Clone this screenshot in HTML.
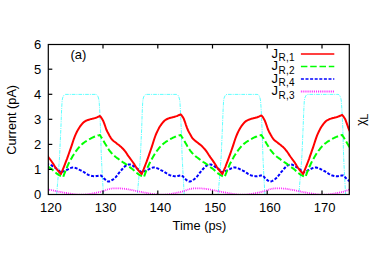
<!DOCTYPE html>
<html><head><meta charset="utf-8"><style>
html,body{margin:0;padding:0;background:#fff;}
body{width:374px;height:262px;overflow:hidden;}
svg{display:block;}
text{font-family:"Liberation Sans",sans-serif;font-size:13px;fill:#000;}
</style></head><body>
<svg width="374" height="262" viewBox="0 0 374 262">
<rect width="374" height="262" fill="#fff"/>
<defs><clipPath id="c"><rect x="48.3" y="44.5" width="301" height="150.5"/></clipPath></defs>
<g clip-path="url(#c)" fill="none" stroke-linejoin="round">
<path d="M-24.2,194.5 L-22.5,175.0 L-21.1,156.0 L-19.9,128.0 L-19.2,110.0 L-18.7,101.0 L-18.2,98.0 L-17.2,95.8 L-16.2,94.7 L-15.3,94.4 L14.9,94.4 L15.9,94.7 L16.9,95.8 L17.8,98.0 L18.4,101.0 L18.9,110.0 L19.8,128.0 L20.6,156.0 L21.5,175.0 L22.6,194.5 L56.1,194.5 L56.6,194.5 L58.3,175.0 L59.6,156.0 L60.9,128.0 L61.6,110.0 L62.1,101.0 L62.6,98.0 L63.5,95.8 L64.5,94.7 L65.5,94.4 L95.7,94.4 L96.7,94.7 L97.7,95.8 L98.5,98.0 L99.1,101.0 L99.7,110.0 L100.5,128.0 L101.3,156.0 L102.3,175.0 L103.4,194.5 L136.9,194.5 L137.3,194.5 L139.1,175.0 L140.4,156.0 L141.7,128.0 L142.3,110.0 L142.8,101.0 L143.3,98.0 L144.2,95.8 L145.2,94.7 L146.2,94.4 L176.4,94.4 L177.4,94.7 L178.4,95.8 L179.2,98.0 L179.9,101.0 L180.4,110.0 L181.2,128.0 L182.1,156.0 L183.1,175.0 L184.2,194.5 L217.7,194.5 L218.1,194.5 L219.8,175.0 L221.2,156.0 L222.4,128.0 L223.1,110.0 L223.6,101.0 L224.1,98.0 L225.0,95.8 L226.0,94.7 L227.0,94.4 L257.2,94.4 L258.2,94.7 L259.2,95.8 L260.0,98.0 L260.6,101.0 L261.2,110.0 L262.0,128.0 L262.9,156.0 L263.8,175.0 L264.9,194.5 L298.4,194.5 L298.8,194.5 L300.5,175.0 L301.9,156.0 L303.1,128.0 L303.8,110.0 L304.3,101.0 L304.8,98.0 L305.8,95.8 L306.8,94.7 L307.8,94.4 L337.9,94.4 L338.9,94.7 L339.9,95.8 L340.8,98.0 L341.3,101.0 L341.9,110.0 L342.8,128.0 L343.6,156.0 L344.5,175.0 L345.6,194.5 L379.1,194.5 L379.6,194.5 L381.3,175.0 L382.6,156.0 L383.9,128.0 L384.6,110.0 L385.1,101.0 L385.6,98.0 L386.5,95.8 L387.5,94.7 L388.5,94.4 L418.7,94.4 L419.7,94.7 L420.7,95.8 L421.5,98.0 L422.1,101.0 L422.7,110.0 L423.5,128.0 L424.3,156.0 L425.3,175.0 L426.4,194.5 L459.9,194.5" stroke="#00ffff" stroke-width="0.9" stroke-dasharray="3.7,1,1,1" opacity="0.7"/>
<path d="M-19.9,192.0 L-18.5,192.3 L-17.1,192.5 L-15.7,192.8 L-14.4,193.0 L-13.0,193.3 L-11.6,193.5 L-10.3,193.7 L-8.9,193.9 L-7.5,194.1 L-6.2,194.3 L-4.8,194.5 L-3.4,194.6 L-2.1,194.7 L-0.7,194.7 L0.7,194.7 L2.0,194.7 L3.4,194.6 L4.8,194.5 L6.2,194.4 L7.5,194.2 L8.9,194.0 L10.3,193.8 L11.6,193.5 L13.0,193.2 L14.4,193.0 L15.7,192.7 L17.1,192.4 L18.5,192.1 L19.8,191.8 L21.2,191.4 L22.6,191.0 L23.9,190.5 L25.3,190.0 L26.7,189.5 L28.1,189.1 L29.4,188.8 L30.8,188.6 L32.2,188.4 L33.5,188.3 L34.9,188.3 L36.3,188.3 L37.6,188.3 L39.0,188.4 L40.4,188.5 L41.7,188.6 L43.1,188.7 L44.5,188.9 L45.8,189.1 L47.2,189.3 L48.6,189.6 L50.0,189.8 L51.3,190.1 L52.7,190.4 L54.1,190.7 L55.4,191.0 L56.8,191.3 L58.2,191.5 L59.5,191.8 L60.9,192.0 L60.9,192.0 L62.3,192.3 L63.6,192.5 L65.0,192.8 L66.4,193.0 L67.7,193.3 L69.1,193.5 L70.5,193.7 L71.8,193.9 L73.2,194.1 L74.6,194.3 L76.0,194.5 L77.3,194.6 L78.7,194.7 L80.1,194.7 L81.4,194.7 L82.8,194.7 L84.2,194.6 L85.5,194.5 L86.9,194.4 L88.3,194.2 L89.6,194.0 L91.0,193.8 L92.4,193.5 L93.7,193.2 L95.1,193.0 L96.5,192.7 L97.9,192.4 L99.2,192.1 L100.6,191.8 L102.0,191.4 L103.3,191.0 L104.7,190.5 L106.1,190.0 L107.4,189.5 L108.8,189.1 L110.2,188.8 L111.5,188.6 L112.9,188.4 L114.3,188.3 L115.6,188.3 L117.0,188.3 L118.4,188.3 L119.8,188.4 L121.1,188.5 L122.5,188.6 L123.9,188.7 L125.2,188.9 L126.6,189.1 L128.0,189.3 L129.3,189.6 L130.7,189.8 L132.1,190.1 L133.4,190.4 L134.8,190.7 L136.2,191.0 L137.5,191.3 L138.9,191.5 L140.3,191.8 L141.7,192.0 L141.7,192.0 L143.0,192.3 L144.4,192.5 L145.8,192.8 L147.1,193.0 L148.5,193.3 L149.9,193.5 L151.2,193.7 L152.6,193.9 L154.0,194.1 L155.3,194.3 L156.7,194.5 L158.1,194.6 L159.4,194.7 L160.8,194.7 L162.2,194.7 L163.5,194.7 L164.9,194.6 L166.3,194.5 L167.7,194.4 L169.0,194.2 L170.4,194.0 L171.8,193.8 L173.1,193.5 L174.5,193.2 L175.9,193.0 L177.2,192.7 L178.6,192.4 L180.0,192.1 L181.3,191.8 L182.7,191.4 L184.1,191.0 L185.4,190.5 L186.8,190.0 L188.2,189.5 L189.6,189.1 L190.9,188.8 L192.3,188.6 L193.7,188.4 L195.0,188.3 L196.4,188.3 L197.8,188.3 L199.1,188.3 L200.5,188.4 L201.9,188.5 L203.2,188.6 L204.6,188.7 L206.0,188.9 L207.3,189.1 L208.7,189.3 L210.1,189.6 L211.5,189.8 L212.8,190.1 L214.2,190.4 L215.6,190.7 L216.9,191.0 L218.3,191.3 L219.7,191.5 L221.0,191.8 L222.4,192.0 L222.4,192.0 L223.8,192.3 L225.1,192.5 L226.5,192.8 L227.9,193.0 L229.2,193.3 L230.6,193.5 L232.0,193.7 L233.3,193.9 L234.7,194.1 L236.1,194.3 L237.5,194.5 L238.8,194.6 L240.2,194.7 L241.6,194.7 L242.9,194.7 L244.3,194.7 L245.7,194.6 L247.0,194.5 L248.4,194.4 L249.8,194.2 L251.1,194.0 L252.5,193.8 L253.9,193.5 L255.2,193.2 L256.6,193.0 L258.0,192.7 L259.4,192.4 L260.7,192.1 L262.1,191.8 L263.5,191.4 L264.8,191.0 L266.2,190.5 L267.6,190.0 L268.9,189.5 L270.3,189.1 L271.7,188.8 L273.0,188.6 L274.4,188.4 L275.8,188.3 L277.1,188.3 L278.5,188.3 L279.9,188.3 L281.3,188.4 L282.6,188.5 L284.0,188.6 L285.4,188.7 L286.7,188.9 L288.1,189.1 L289.5,189.3 L290.8,189.6 L292.2,189.8 L293.6,190.1 L294.9,190.4 L296.3,190.7 L297.7,191.0 L299.0,191.3 L300.4,191.5 L301.8,191.8 L303.1,192.0 L303.1,192.0 L304.5,192.3 L305.9,192.5 L307.3,192.8 L308.6,193.0 L310.0,193.3 L311.4,193.5 L312.7,193.7 L314.1,193.9 L315.5,194.1 L316.8,194.3 L318.2,194.5 L319.6,194.6 L320.9,194.7 L322.3,194.7 L323.7,194.7 L325.0,194.7 L326.4,194.6 L327.8,194.5 L329.2,194.4 L330.5,194.2 L331.9,194.0 L333.3,193.8 L334.6,193.5 L336.0,193.2 L337.4,193.0 L338.7,192.7 L340.1,192.4 L341.5,192.1 L342.8,191.8 L344.2,191.4 L345.6,191.0 L346.9,190.5 L348.3,190.0 L349.7,189.5 L351.1,189.1 L352.4,188.8 L353.8,188.6 L355.2,188.4 L356.5,188.3 L357.9,188.3 L359.3,188.3 L360.6,188.3 L362.0,188.4 L363.4,188.5 L364.7,188.6 L366.1,188.7 L367.5,188.9 L368.8,189.1 L370.2,189.3 L371.6,189.6 L373.0,189.8 L374.3,190.1 L375.7,190.4 L377.1,190.7 L378.4,191.0 L379.8,191.3 L381.2,191.5 L382.5,191.8 L383.9,192.0 L383.9,192.0 L385.3,192.3 L386.6,192.5 L388.0,192.8 L389.4,193.0 L390.7,193.3 L392.1,193.5 L393.5,193.7 L394.8,193.9 L396.2,194.1 L397.6,194.3 L399.0,194.5 L400.3,194.6 L401.7,194.7 L403.1,194.7 L404.4,194.7 L405.8,194.7 L407.2,194.6 L408.5,194.5 L409.9,194.4 L411.3,194.2 L412.6,194.0 L414.0,193.8 L415.4,193.5 L416.7,193.2 L418.1,193.0 L419.5,192.7 L420.9,192.4 L422.2,192.1 L423.6,191.8 L425.0,191.4 L426.3,191.0 L427.7,190.5 L429.1,190.0 L430.4,189.5 L431.8,189.1 L433.2,188.8 L434.5,188.6 L435.9,188.4 L437.3,188.3 L438.6,188.3 L440.0,188.3 L441.4,188.3 L442.8,188.4 L444.1,188.5 L445.5,188.6 L446.9,188.7 L448.2,188.9 L449.6,189.1 L451.0,189.3 L452.3,189.6 L453.7,189.8 L455.1,190.1 L456.4,190.4 L457.8,190.7 L459.2,191.0 L460.5,191.3 L461.9,191.5 L463.3,191.8 L464.6,192.0" stroke="#ff00ff" stroke-width="1.8" stroke-dasharray="0.8,1.1"/>
<path d="M-19.7,172.5 L-18.7,172.0 L-17.8,171.6 L-16.9,171.2 L-16.0,170.8 L-15.1,170.4 L-14.2,170.0 L-13.3,169.5 L-12.4,169.1 L-11.5,168.6 L-10.6,168.2 L-9.7,167.9 L-8.8,167.6 L-7.9,167.5 L-6.9,167.5 L-6.0,167.7 L-5.1,167.9 L-4.2,168.3 L-3.3,168.7 L-2.4,169.1 L-1.5,169.6 L-0.6,170.1 L0.3,170.5 L1.2,171.0 L2.1,171.4 L3.0,172.0 L3.9,172.6 L4.8,173.2 L5.8,173.8 L6.7,174.3 L7.6,174.8 L8.5,175.2 L9.4,175.5 L10.3,175.7 L11.2,175.9 L12.1,176.1 L13.0,176.2 L13.9,176.3 L14.8,176.3 L15.7,176.1 L16.6,175.9 L17.5,175.7 L18.5,175.5 L19.4,175.4 L20.3,175.5 L21.2,176.2 L22.1,177.2 L23.0,178.3 L23.9,179.1 L24.8,179.9 L25.7,180.6 L26.6,181.2 L27.5,181.5 L28.4,181.4 L29.3,181.2 L30.3,180.8 L31.2,180.2 L32.1,179.6 L33.0,179.0 L33.9,178.3 L34.8,177.4 L35.7,176.3 L36.6,175.2 L37.5,173.9 L38.4,172.7 L39.3,171.6 L40.2,170.6 L41.1,169.5 L42.0,168.5 L43.0,167.5 L43.9,166.6 L44.8,165.9 L45.7,165.4 L46.6,164.9 L47.5,164.6 L48.4,164.4 L49.3,164.5 L50.2,164.8 L51.1,165.2 L52.0,165.7 L52.9,166.3 L53.8,166.9 L54.7,167.5 L55.7,168.1 L56.6,168.7 L57.5,169.4 L58.4,170.1 L59.3,170.9 L60.2,171.7 L61.1,172.5 L61.1,172.5 L62.0,172.0 L62.9,171.6 L63.8,171.2 L64.7,170.8 L65.6,170.4 L66.5,170.0 L67.5,169.5 L68.4,169.1 L69.3,168.6 L70.2,168.2 L71.1,167.9 L72.0,167.6 L72.9,167.5 L73.8,167.5 L74.7,167.7 L75.6,167.9 L76.5,168.3 L77.4,168.7 L78.3,169.1 L79.2,169.6 L80.2,170.1 L81.1,170.5 L82.0,171.0 L82.9,171.4 L83.8,172.0 L84.7,172.6 L85.6,173.2 L86.5,173.8 L87.4,174.3 L88.3,174.8 L89.2,175.2 L90.1,175.5 L91.0,175.7 L91.9,175.9 L92.9,176.1 L93.8,176.2 L94.7,176.3 L95.6,176.3 L96.5,176.1 L97.4,175.9 L98.3,175.7 L99.2,175.5 L100.1,175.4 L101.0,175.5 L101.9,176.2 L102.8,177.2 L103.7,178.3 L104.7,179.1 L105.6,179.9 L106.5,180.6 L107.4,181.2 L108.3,181.5 L109.2,181.4 L110.1,181.2 L111.0,180.8 L111.9,180.2 L112.8,179.6 L113.7,179.0 L114.6,178.3 L115.5,177.4 L116.4,176.3 L117.4,175.2 L118.3,173.9 L119.2,172.7 L120.1,171.6 L121.0,170.6 L121.9,169.5 L122.8,168.5 L123.7,167.5 L124.6,166.6 L125.5,165.9 L126.4,165.4 L127.3,164.9 L128.2,164.6 L129.1,164.4 L130.1,164.5 L131.0,164.8 L131.9,165.2 L132.8,165.7 L133.7,166.3 L134.6,166.9 L135.5,167.5 L136.4,168.1 L137.3,168.7 L138.2,169.4 L139.1,170.1 L140.0,170.9 L140.9,171.7 L141.8,172.5 L141.8,172.5 L142.8,172.0 L143.7,171.6 L144.6,171.2 L145.5,170.8 L146.4,170.4 L147.3,170.0 L148.2,169.5 L149.1,169.1 L150.0,168.6 L150.9,168.2 L151.8,167.9 L152.7,167.6 L153.6,167.5 L154.6,167.5 L155.5,167.7 L156.4,167.9 L157.3,168.3 L158.2,168.7 L159.1,169.1 L160.0,169.6 L160.9,170.1 L161.8,170.5 L162.7,171.0 L163.6,171.4 L164.5,172.0 L165.4,172.6 L166.3,173.2 L167.3,173.8 L168.2,174.3 L169.1,174.8 L170.0,175.2 L170.9,175.5 L171.8,175.7 L172.7,175.9 L173.6,176.1 L174.5,176.2 L175.4,176.3 L176.3,176.3 L177.2,176.1 L178.1,175.9 L179.0,175.7 L180.0,175.5 L180.9,175.4 L181.8,175.5 L182.7,176.2 L183.6,177.2 L184.5,178.3 L185.4,179.1 L186.3,179.9 L187.2,180.6 L188.1,181.2 L189.0,181.5 L189.9,181.4 L190.8,181.2 L191.8,180.8 L192.7,180.2 L193.6,179.6 L194.5,179.0 L195.4,178.3 L196.3,177.4 L197.2,176.3 L198.1,175.2 L199.0,173.9 L199.9,172.7 L200.8,171.6 L201.7,170.6 L202.6,169.5 L203.5,168.5 L204.5,167.5 L205.4,166.6 L206.3,165.9 L207.2,165.4 L208.1,164.9 L209.0,164.6 L209.9,164.4 L210.8,164.5 L211.7,164.8 L212.6,165.2 L213.5,165.7 L214.4,166.3 L215.3,166.9 L216.2,167.5 L217.2,168.1 L218.1,168.7 L219.0,169.4 L219.9,170.1 L220.8,170.9 L221.7,171.7 L222.6,172.5 L222.6,172.5 L223.5,172.0 L224.4,171.6 L225.3,171.2 L226.2,170.8 L227.1,170.4 L228.0,170.0 L229.0,169.5 L229.9,169.1 L230.8,168.6 L231.7,168.2 L232.6,167.9 L233.5,167.6 L234.4,167.5 L235.3,167.5 L236.2,167.7 L237.1,167.9 L238.0,168.3 L238.9,168.7 L239.8,169.1 L240.7,169.6 L241.7,170.1 L242.6,170.5 L243.5,171.0 L244.4,171.4 L245.3,172.0 L246.2,172.6 L247.1,173.2 L248.0,173.8 L248.9,174.3 L249.8,174.8 L250.7,175.2 L251.6,175.5 L252.5,175.7 L253.4,175.9 L254.4,176.1 L255.3,176.2 L256.2,176.3 L257.1,176.3 L258.0,176.1 L258.9,175.9 L259.8,175.7 L260.7,175.5 L261.6,175.4 L262.5,175.5 L263.4,176.2 L264.3,177.2 L265.2,178.3 L266.2,179.1 L267.1,179.9 L268.0,180.6 L268.9,181.2 L269.8,181.5 L270.7,181.4 L271.6,181.2 L272.5,180.8 L273.4,180.2 L274.3,179.6 L275.2,179.0 L276.1,178.3 L277.0,177.4 L277.9,176.3 L278.9,175.2 L279.8,173.9 L280.7,172.7 L281.6,171.6 L282.5,170.6 L283.4,169.5 L284.3,168.5 L285.2,167.5 L286.1,166.6 L287.0,165.9 L287.9,165.4 L288.8,164.9 L289.7,164.6 L290.6,164.4 L291.6,164.5 L292.5,164.8 L293.4,165.2 L294.3,165.7 L295.2,166.3 L296.1,166.9 L297.0,167.5 L297.9,168.1 L298.8,168.7 L299.7,169.4 L300.6,170.1 L301.5,170.9 L302.4,171.7 L303.4,172.5 L303.3,172.5 L304.3,172.0 L305.2,171.6 L306.1,171.2 L307.0,170.8 L307.9,170.4 L308.8,170.0 L309.7,169.5 L310.6,169.1 L311.5,168.6 L312.4,168.2 L313.3,167.9 L314.2,167.6 L315.1,167.5 L316.1,167.5 L317.0,167.7 L317.9,167.9 L318.8,168.3 L319.7,168.7 L320.6,169.1 L321.5,169.6 L322.4,170.1 L323.3,170.5 L324.2,171.0 L325.1,171.4 L326.0,172.0 L326.9,172.6 L327.8,173.2 L328.8,173.8 L329.7,174.3 L330.6,174.8 L331.5,175.2 L332.4,175.5 L333.3,175.7 L334.2,175.9 L335.1,176.1 L336.0,176.2 L336.9,176.3 L337.8,176.3 L338.7,176.1 L339.6,175.9 L340.5,175.7 L341.5,175.5 L342.4,175.4 L343.3,175.5 L344.2,176.2 L345.1,177.2 L346.0,178.3 L346.9,179.1 L347.8,179.9 L348.7,180.6 L349.6,181.2 L350.5,181.5 L351.4,181.4 L352.3,181.2 L353.3,180.8 L354.2,180.2 L355.1,179.6 L356.0,179.0 L356.9,178.3 L357.8,177.4 L358.7,176.3 L359.6,175.2 L360.5,173.9 L361.4,172.7 L362.3,171.6 L363.2,170.6 L364.1,169.5 L365.0,168.5 L366.0,167.5 L366.9,166.6 L367.8,165.9 L368.7,165.4 L369.6,164.9 L370.5,164.6 L371.4,164.4 L372.3,164.5 L373.2,164.8 L374.1,165.2 L375.0,165.7 L375.9,166.3 L376.8,166.9 L377.7,167.5 L378.7,168.1 L379.6,168.7 L380.5,169.4 L381.4,170.1 L382.3,170.9 L383.2,171.7 L384.1,172.5 L384.1,172.5 L385.0,172.0 L385.9,171.6 L386.8,171.2 L387.7,170.8 L388.6,170.4 L389.5,170.0 L390.5,169.5 L391.4,169.1 L392.3,168.6 L393.2,168.2 L394.1,167.9 L395.0,167.6 L395.9,167.5 L396.8,167.5 L397.7,167.7 L398.6,167.9 L399.5,168.3 L400.4,168.7 L401.3,169.1 L402.2,169.6 L403.2,170.1 L404.1,170.5 L405.0,171.0 L405.9,171.4 L406.8,172.0 L407.7,172.6 L408.6,173.2 L409.5,173.8 L410.4,174.3 L411.3,174.8 L412.2,175.2 L413.1,175.5 L414.0,175.7 L414.9,175.9 L415.9,176.1 L416.8,176.2 L417.7,176.3 L418.6,176.3 L419.5,176.1 L420.4,175.9 L421.3,175.7 L422.2,175.5 L423.1,175.4 L424.0,175.5 L424.9,176.2 L425.8,177.2 L426.7,178.3 L427.7,179.1 L428.6,179.9 L429.5,180.6 L430.4,181.2 L431.3,181.5 L432.2,181.4 L433.1,181.2 L434.0,180.8 L434.9,180.2 L435.8,179.6 L436.7,179.0 L437.6,178.3 L438.5,177.4 L439.4,176.3 L440.4,175.2 L441.3,173.9 L442.2,172.7 L443.1,171.6 L444.0,170.6 L444.9,169.5 L445.8,168.5 L446.7,167.5 L447.6,166.6 L448.5,165.9 L449.4,165.4 L450.3,164.9 L451.2,164.6 L452.1,164.4 L453.1,164.5 L454.0,164.8 L454.9,165.2 L455.8,165.7 L456.7,166.3 L457.6,166.9 L458.5,167.5 L459.4,168.1 L460.3,168.7 L461.2,169.4 L462.1,170.1 L463.0,170.9 L463.9,171.7 L464.8,172.5" stroke="#0000ff" stroke-width="2" stroke-dasharray="3,1.6"/>
<path d="M-17.6,177.0 L-16.6,174.4 L-15.7,171.9 L-14.7,169.6 L-13.8,167.3 L-12.8,165.2 L-11.9,163.2 L-11.0,161.4 L-10.0,159.6 L-9.1,158.0 L-8.1,156.3 L-7.2,154.8 L-6.3,153.3 L-5.3,151.9 L-4.4,150.6 L-3.4,149.4 L-2.5,148.2 L-1.6,147.1 L-0.6,146.0 L0.3,145.1 L1.3,144.2 L2.2,143.4 L3.2,142.7 L4.1,142.0 L5.0,141.4 L6.0,140.8 L6.9,140.2 L7.9,139.6 L8.8,139.1 L9.7,138.6 L10.7,138.1 L11.6,137.6 L12.6,137.2 L13.5,136.8 L14.4,136.5 L15.4,136.1 L16.3,135.8 L17.3,135.4 L18.2,135.2 L19.1,134.9 L20.3,136.8 L21.4,138.6 L22.5,140.5 L23.7,142.4 L24.8,144.3 L25.9,146.2 L27.1,148.1 L28.2,149.8 L29.3,151.3 L30.4,152.7 L31.6,153.9 L32.7,155.1 L33.8,156.1 L35.0,157.0 L36.1,157.8 L37.2,158.6 L38.4,159.5 L39.5,160.5 L40.6,161.3 L41.7,162.0 L42.9,162.7 L44.0,163.4 L45.1,164.2 L46.3,165.0 L47.4,165.9 L48.5,166.8 L49.6,167.6 L50.8,168.4 L51.9,169.3 L53.0,170.3 L54.2,171.4 L55.3,172.4 L56.4,173.3 L57.6,174.1 L58.7,174.8 L59.8,175.4 L60.9,176.0 L62.1,176.5 L63.2,177.0 L63.2,177.0 L64.1,174.4 L65.1,171.9 L66.0,169.6 L67.0,167.3 L67.9,165.2 L68.8,163.2 L69.8,161.4 L70.7,159.6 L71.7,158.0 L72.6,156.3 L73.6,154.8 L74.5,153.3 L75.4,151.9 L76.4,150.6 L77.3,149.4 L78.3,148.2 L79.2,147.1 L80.1,146.0 L81.1,145.1 L82.0,144.2 L83.0,143.4 L83.9,142.7 L84.8,142.0 L85.8,141.4 L86.7,140.8 L87.7,140.2 L88.6,139.6 L89.5,139.1 L90.5,138.6 L91.4,138.1 L92.4,137.6 L93.3,137.2 L94.3,136.8 L95.2,136.5 L96.1,136.1 L97.1,135.8 L98.0,135.4 L99.0,135.2 L99.9,134.9 L101.0,136.8 L102.2,138.6 L103.3,140.5 L104.4,142.4 L105.5,144.3 L106.7,146.2 L107.8,148.1 L108.9,149.8 L110.1,151.3 L111.2,152.7 L112.3,153.9 L113.5,155.1 L114.6,156.1 L115.7,157.0 L116.8,157.8 L118.0,158.6 L119.1,159.5 L120.2,160.5 L121.4,161.3 L122.5,162.0 L123.6,162.7 L124.7,163.4 L125.9,164.2 L127.0,165.0 L128.1,165.9 L129.3,166.8 L130.4,167.6 L131.5,168.4 L132.7,169.3 L133.8,170.3 L134.9,171.4 L136.0,172.4 L137.2,173.3 L138.3,174.1 L139.4,174.8 L140.6,175.4 L141.7,176.0 L142.8,176.5 L143.9,177.0 L144.0,177.0 L144.9,174.4 L145.8,171.9 L146.8,169.6 L147.7,167.3 L148.7,165.2 L149.6,163.2 L150.5,161.4 L151.5,159.6 L152.4,158.0 L153.4,156.3 L154.3,154.8 L155.2,153.3 L156.2,151.9 L157.1,150.6 L158.1,149.4 L159.0,148.2 L159.9,147.1 L160.9,146.0 L161.8,145.1 L162.8,144.2 L163.7,143.4 L164.7,142.7 L165.6,142.0 L166.5,141.4 L167.5,140.8 L168.4,140.2 L169.4,139.6 L170.3,139.1 L171.2,138.6 L172.2,138.1 L173.1,137.6 L174.1,137.2 L175.0,136.8 L175.9,136.5 L176.9,136.1 L177.8,135.8 L178.8,135.4 L179.7,135.2 L180.7,134.9 L181.8,136.8 L182.9,138.6 L184.0,140.5 L185.2,142.4 L186.3,144.3 L187.4,146.2 L188.6,148.1 L189.7,149.8 L190.8,151.3 L191.9,152.7 L193.1,153.9 L194.2,155.1 L195.3,156.1 L196.5,157.0 L197.6,157.8 L198.7,158.6 L199.9,159.5 L201.0,160.5 L202.1,161.3 L203.2,162.0 L204.4,162.7 L205.5,163.4 L206.6,164.2 L207.8,165.0 L208.9,165.9 L210.0,166.8 L211.1,167.6 L212.3,168.4 L213.4,169.3 L214.5,170.3 L215.7,171.4 L216.8,172.4 L217.9,173.3 L219.1,174.1 L220.2,174.8 L221.3,175.4 L222.4,176.0 L223.6,176.5 L224.7,177.0 L224.7,177.0 L225.6,174.4 L226.6,171.9 L227.5,169.6 L228.5,167.3 L229.4,165.2 L230.3,163.2 L231.3,161.4 L232.2,159.6 L233.2,158.0 L234.1,156.3 L235.1,154.8 L236.0,153.3 L236.9,151.9 L237.9,150.6 L238.8,149.4 L239.8,148.2 L240.7,147.1 L241.6,146.0 L242.6,145.1 L243.5,144.2 L244.5,143.4 L245.4,142.7 L246.3,142.0 L247.3,141.4 L248.2,140.8 L249.2,140.2 L250.1,139.6 L251.0,139.1 L252.0,138.6 L252.9,138.1 L253.9,137.6 L254.8,137.2 L255.8,136.8 L256.7,136.5 L257.6,136.1 L258.6,135.8 L259.5,135.4 L260.5,135.2 L261.4,134.9 L262.5,136.8 L263.7,138.6 L264.8,140.5 L265.9,142.4 L267.0,144.3 L268.2,146.2 L269.3,148.1 L270.4,149.8 L271.6,151.3 L272.7,152.7 L273.8,153.9 L275.0,155.1 L276.1,156.1 L277.2,157.0 L278.3,157.8 L279.5,158.6 L280.6,159.5 L281.7,160.5 L282.9,161.3 L284.0,162.0 L285.1,162.7 L286.2,163.4 L287.4,164.2 L288.5,165.0 L289.6,165.9 L290.8,166.8 L291.9,167.6 L293.0,168.4 L294.2,169.3 L295.3,170.3 L296.4,171.4 L297.5,172.4 L298.7,173.3 L299.8,174.1 L300.9,174.8 L302.1,175.4 L303.2,176.0 L304.3,176.5 L305.4,177.0 L305.4,177.0 L306.4,174.4 L307.3,171.9 L308.3,169.6 L309.2,167.3 L310.2,165.2 L311.1,163.2 L312.0,161.4 L313.0,159.6 L313.9,158.0 L314.9,156.3 L315.8,154.8 L316.7,153.3 L317.7,151.9 L318.6,150.6 L319.6,149.4 L320.5,148.2 L321.4,147.1 L322.4,146.0 L323.3,145.1 L324.3,144.2 L325.2,143.4 L326.2,142.7 L327.1,142.0 L328.0,141.4 L329.0,140.8 L329.9,140.2 L330.9,139.6 L331.8,139.1 L332.7,138.6 L333.7,138.1 L334.6,137.6 L335.6,137.2 L336.5,136.8 L337.4,136.5 L338.4,136.1 L339.3,135.8 L340.3,135.4 L341.2,135.2 L342.1,134.9 L343.3,136.8 L344.4,138.6 L345.5,140.5 L346.7,142.4 L347.8,144.3 L348.9,146.2 L350.1,148.1 L351.2,149.8 L352.3,151.3 L353.4,152.7 L354.6,153.9 L355.7,155.1 L356.8,156.1 L358.0,157.0 L359.1,157.8 L360.2,158.6 L361.4,159.5 L362.5,160.5 L363.6,161.3 L364.7,162.0 L365.9,162.7 L367.0,163.4 L368.1,164.2 L369.3,165.0 L370.4,165.9 L371.5,166.8 L372.6,167.6 L373.8,168.4 L374.9,169.3 L376.0,170.3 L377.2,171.4 L378.3,172.4 L379.4,173.3 L380.6,174.1 L381.7,174.8 L382.8,175.4 L383.9,176.0 L385.1,176.5 L386.2,177.0 L386.2,177.0 L387.1,174.4 L388.1,171.9 L389.0,169.6 L390.0,167.3 L390.9,165.2 L391.8,163.2 L392.8,161.4 L393.7,159.6 L394.7,158.0 L395.6,156.3 L396.6,154.8 L397.5,153.3 L398.4,151.9 L399.4,150.6 L400.3,149.4 L401.3,148.2 L402.2,147.1 L403.1,146.0 L404.1,145.1 L405.0,144.2 L406.0,143.4 L406.9,142.7 L407.8,142.0 L408.8,141.4 L409.7,140.8 L410.7,140.2 L411.6,139.6 L412.5,139.1 L413.5,138.6 L414.4,138.1 L415.4,137.6 L416.3,137.2 L417.3,136.8 L418.2,136.5 L419.1,136.1 L420.1,135.8 L421.0,135.4 L422.0,135.2 L422.9,134.9 L424.0,136.8 L425.2,138.6 L426.3,140.5 L427.4,142.4 L428.5,144.3 L429.7,146.2 L430.8,148.1 L431.9,149.8 L433.1,151.3 L434.2,152.7 L435.3,153.9 L436.5,155.1 L437.6,156.1 L438.7,157.0 L439.8,157.8 L441.0,158.6 L442.1,159.5 L443.2,160.5 L444.4,161.3 L445.5,162.0 L446.6,162.7 L447.7,163.4 L448.9,164.2 L450.0,165.0 L451.1,165.9 L452.3,166.8 L453.4,167.6 L454.5,168.4 L455.7,169.3 L456.8,170.3 L457.9,171.4 L459.0,172.4 L460.2,173.3 L461.3,174.1 L462.4,174.8 L463.6,175.4 L464.7,176.0 L465.8,176.5 L466.9,177.0" stroke="#00ff00" stroke-width="2" stroke-dasharray="6.5,2.8"/>
<path d="M-19.9,174.0 L-18.9,171.7 L-17.9,169.3 L-16.9,166.8 L-15.9,164.3 L-14.9,161.7 L-13.9,159.1 L-12.9,156.3 L-11.9,153.5 L-10.9,150.7 L-9.9,147.9 L-8.9,144.9 L-7.9,141.8 L-6.9,138.8 L-5.9,136.2 L-4.9,133.9 L-3.9,131.8 L-2.9,129.9 L-1.9,128.2 L-0.9,126.7 L0.1,125.4 L1.1,124.1 L2.1,123.0 L3.1,122.1 L4.1,121.4 L5.1,120.8 L6.1,120.4 L7.1,120.0 L8.1,119.7 L9.1,119.4 L10.1,119.1 L11.1,118.9 L12.1,118.6 L13.1,118.4 L14.1,118.1 L15.1,117.8 L16.1,117.4 L17.1,116.9 L18.1,116.5 L19.1,116.0 L20.2,117.2 L21.3,118.8 L22.4,120.7 L23.4,123.3 L24.5,126.5 L25.6,129.5 L26.6,131.8 L27.7,133.8 L28.8,135.7 L29.9,137.6 L30.9,139.2 L32.0,140.3 L33.1,141.2 L34.1,142.0 L35.2,142.8 L36.3,143.7 L37.3,144.5 L38.4,145.3 L39.5,146.2 L40.6,147.1 L41.6,148.2 L42.7,149.3 L43.8,150.5 L44.8,151.9 L45.9,153.5 L47.0,155.1 L48.1,156.7 L49.1,158.1 L50.2,159.5 L51.3,161.0 L52.3,162.5 L53.4,164.1 L54.5,165.9 L55.5,167.5 L56.6,169.0 L57.7,170.4 L58.8,171.7 L59.8,172.9 L60.9,174.0 L60.9,174.0 L61.9,171.7 L62.9,169.3 L63.9,166.8 L64.9,164.3 L65.9,161.7 L66.9,159.1 L67.9,156.3 L68.9,153.5 L69.9,150.7 L70.9,147.9 L71.9,144.9 L72.9,141.8 L73.9,138.8 L74.9,136.2 L75.9,133.9 L76.9,131.8 L77.9,129.9 L78.9,128.2 L79.9,126.7 L80.9,125.4 L81.9,124.1 L82.9,123.0 L83.9,122.1 L84.9,121.4 L85.9,120.8 L86.9,120.4 L87.9,120.0 L88.9,119.7 L89.9,119.4 L90.9,119.1 L91.9,118.9 L92.9,118.6 L93.9,118.4 L94.9,118.1 L95.9,117.8 L96.9,117.4 L97.9,116.9 L98.9,116.5 L99.9,116.0 L101.0,117.2 L102.0,118.8 L103.1,120.7 L104.2,123.3 L105.3,126.5 L106.3,129.5 L107.4,131.8 L108.5,133.8 L109.5,135.7 L110.6,137.6 L111.7,139.2 L112.7,140.3 L113.8,141.2 L114.9,142.0 L116.0,142.8 L117.0,143.7 L118.1,144.5 L119.2,145.3 L120.2,146.2 L121.3,147.1 L122.4,148.2 L123.5,149.3 L124.5,150.5 L125.6,151.9 L126.7,153.5 L127.7,155.1 L128.8,156.7 L129.9,158.1 L130.9,159.5 L132.0,161.0 L133.1,162.5 L134.2,164.1 L135.2,165.9 L136.3,167.5 L137.4,169.0 L138.4,170.4 L139.5,171.7 L140.6,172.9 L141.7,174.0 L141.7,174.0 L142.7,171.6 L143.7,169.2 L144.7,166.6 L145.7,164.0 L146.7,161.4 L147.7,158.6 L148.7,155.8 L149.7,152.9 L150.7,150.0 L151.7,147.1 L152.7,144.0 L153.7,140.8 L154.7,137.8 L155.7,135.0 L156.7,132.7 L157.7,130.6 L158.7,128.6 L159.7,126.8 L160.7,125.3 L161.7,123.9 L162.7,122.7 L163.7,121.5 L164.7,120.5 L165.7,119.8 L166.7,119.2 L167.7,118.8 L168.7,118.4 L169.7,118.0 L170.7,117.7 L171.7,117.5 L172.7,117.2 L173.7,117.0 L174.7,116.7 L175.7,116.4 L176.7,116.1 L177.7,115.7 L178.7,115.2 L179.7,114.8 L180.7,114.3 L181.7,115.5 L182.8,117.1 L183.9,119.1 L184.9,121.8 L186.0,125.1 L187.1,128.1 L188.1,130.5 L189.2,132.6 L190.3,134.6 L191.4,136.5 L192.4,138.1 L193.5,139.3 L194.6,140.3 L195.6,141.1 L196.7,141.9 L197.8,142.8 L198.8,143.6 L199.9,144.4 L201.0,145.3 L202.1,146.3 L203.1,147.4 L204.2,148.6 L205.3,149.8 L206.3,151.2 L207.4,152.8 L208.5,154.5 L209.6,156.1 L210.6,157.7 L211.7,159.1 L212.8,160.6 L213.8,162.1 L214.9,163.8 L216.0,165.6 L217.0,167.3 L218.1,168.8 L219.2,170.2 L220.3,171.6 L221.3,172.9 L222.4,174.0 L222.4,174.0 L223.4,171.7 L224.4,169.2 L225.4,166.8 L226.4,164.2 L227.4,161.6 L228.4,158.9 L229.4,156.1 L230.4,153.3 L231.4,150.5 L232.4,147.6 L233.4,144.6 L234.4,141.5 L235.4,138.5 L236.4,135.8 L237.4,133.5 L238.4,131.4 L239.4,129.5 L240.4,127.8 L241.4,126.2 L242.4,124.9 L243.4,123.6 L244.4,122.5 L245.4,121.6 L246.4,120.8 L247.4,120.3 L248.4,119.8 L249.4,119.5 L250.4,119.1 L251.4,118.8 L252.4,118.6 L253.4,118.3 L254.4,118.1 L255.4,117.8 L256.4,117.5 L257.4,117.2 L258.4,116.8 L259.4,116.4 L260.4,115.9 L261.4,115.4 L262.5,116.6 L263.5,118.3 L264.6,120.2 L265.7,122.8 L266.8,126.0 L267.8,129.0 L268.9,131.4 L270.0,133.4 L271.0,135.3 L272.1,137.2 L273.2,138.8 L274.2,140.0 L275.3,140.9 L276.4,141.7 L277.5,142.5 L278.5,143.4 L279.6,144.2 L280.7,145.0 L281.7,145.9 L282.8,146.8 L283.9,147.9 L285.0,149.0 L286.0,150.3 L287.1,151.7 L288.2,153.3 L289.2,154.9 L290.3,156.5 L291.4,158.0 L292.4,159.4 L293.5,160.8 L294.6,162.4 L295.7,164.0 L296.7,165.8 L297.8,167.5 L298.9,168.9 L299.9,170.3 L301.0,171.6 L302.1,172.9 L303.1,174.0 L303.1,174.0 L304.1,171.6 L305.1,169.2 L306.1,166.7 L307.1,164.1 L308.1,161.5 L309.1,158.8 L310.1,155.9 L311.1,153.1 L312.1,150.2 L313.1,147.3 L314.1,144.3 L315.1,141.1 L316.1,138.1 L317.1,135.4 L318.1,133.1 L319.1,131.0 L320.1,129.1 L321.1,127.3 L322.1,125.8 L323.1,124.4 L324.1,123.2 L325.1,122.0 L326.1,121.0 L327.1,120.3 L328.1,119.8 L329.1,119.3 L330.1,118.9 L331.1,118.6 L332.1,118.3 L333.1,118.0 L334.1,117.8 L335.1,117.5 L336.1,117.3 L337.1,117.0 L338.1,116.6 L339.1,116.2 L340.1,115.8 L341.1,115.3 L342.1,114.8 L343.2,116.1 L344.3,117.7 L345.4,119.6 L346.4,122.3 L347.5,125.5 L348.6,128.6 L349.6,130.9 L350.7,133.0 L351.8,135.0 L352.9,136.8 L353.9,138.5 L355.0,139.7 L356.1,140.6 L357.1,141.4 L358.2,142.2 L359.3,143.1 L360.3,143.9 L361.4,144.7 L362.5,145.6 L363.6,146.6 L364.6,147.6 L365.7,148.8 L366.8,150.1 L367.8,151.5 L368.9,153.0 L370.0,154.7 L371.1,156.3 L372.1,157.8 L373.2,159.3 L374.3,160.7 L375.3,162.2 L376.4,163.9 L377.5,165.7 L378.5,167.4 L379.6,168.9 L380.7,170.3 L381.8,171.6 L382.8,172.9 L383.9,174.0 L383.9,174.0 L384.9,171.7 L385.9,169.3 L386.9,166.8 L387.9,164.3 L388.9,161.7 L389.9,159.1 L390.9,156.3 L391.9,153.5 L392.9,150.7 L393.9,147.9 L394.9,144.9 L395.9,141.8 L396.9,138.8 L397.9,136.2 L398.9,133.9 L399.9,131.8 L400.9,129.9 L401.9,128.2 L402.9,126.7 L403.9,125.4 L404.9,124.1 L405.9,123.0 L406.9,122.1 L407.9,121.4 L408.9,120.8 L409.9,120.4 L410.9,120.0 L411.9,119.7 L412.9,119.4 L413.9,119.1 L414.9,118.9 L415.9,118.6 L416.9,118.4 L417.9,118.1 L418.9,117.8 L419.9,117.4 L420.9,116.9 L421.9,116.5 L422.9,116.0 L424.0,117.2 L425.0,118.8 L426.1,120.7 L427.2,123.3 L428.3,126.5 L429.3,129.5 L430.4,131.8 L431.5,133.8 L432.5,135.7 L433.6,137.6 L434.7,139.2 L435.7,140.3 L436.8,141.2 L437.9,142.0 L439.0,142.8 L440.0,143.7 L441.1,144.5 L442.2,145.3 L443.2,146.2 L444.3,147.1 L445.4,148.2 L446.5,149.3 L447.5,150.5 L448.6,151.9 L449.7,153.5 L450.7,155.1 L451.8,156.7 L452.9,158.1 L453.9,159.5 L455.0,161.0 L456.1,162.5 L457.2,164.1 L458.2,165.9 L459.3,167.5 L460.4,169.0 L461.4,170.4 L462.5,171.7 L463.6,172.9 L464.6,174.0" stroke="#ff0000" stroke-width="2"/>
</g>
<g stroke="#000" stroke-width="1.2" fill="none">
<rect x="48.3" y="44.5" width="301" height="150"/>
<path d="M103.0,194.5v-4M103.0,44.5v4"/><path d="M157.8,194.5v-4M157.8,44.5v4"/><path d="M212.5,194.5v-4M212.5,44.5v4"/><path d="M267.2,194.5v-4M267.2,44.5v4"/><path d="M322.0,194.5v-4M322.0,44.5v4"/><path d="M48.3,169.4h4"/><path d="M48.3,144.4h4"/><path d="M48.3,119.3h4"/><path d="M48.3,94.3h4"/><path d="M48.3,69.2h4"/>
</g>
<text x="41.3" y="198.8" text-anchor="end">0</text><text x="41.3" y="173.8" text-anchor="end">1</text><text x="41.3" y="148.7" text-anchor="end">2</text><text x="41.3" y="123.6" text-anchor="end">3</text><text x="41.3" y="98.6" text-anchor="end">4</text><text x="41.3" y="73.5" text-anchor="end">5</text><text x="41.3" y="48.5" text-anchor="end">6</text><text x="50.9" y="211.9" text-anchor="middle">120</text><text x="105.6" y="211.9" text-anchor="middle">130</text><text x="160.4" y="211.9" text-anchor="middle">140</text><text x="215.1" y="211.9" text-anchor="middle">150</text><text x="269.8" y="211.9" text-anchor="middle">160</text><text x="324.6" y="211.9" text-anchor="middle">170</text><text x="199.4" y="230.2" text-anchor="middle" textLength="53.6" lengthAdjust="spacingAndGlyphs">Time (ps)</text><text transform="translate(16.3,119.8) rotate(-90)" text-anchor="middle" style="font-size:12.7px">Current (pA)</text><text transform="translate(364.8,125.8) rotate(-90)" style="font-size:12px">χ<tspan font-size="10.5" dy="3.2">L</tspan></text><text x="70.4" y="58.5">(a)</text><text x="271.6" y="57.5" style="font-size:13px">J<tspan font-size="10" dy="3.6" dx="0.4" letter-spacing="0.3">R,1</tspan></text><path d="M300.9,54.0H334.3" stroke="#ff0000" stroke-width="1.6" fill="none" /><text x="271.6" y="70.0" style="font-size:13px">J<tspan font-size="10" dy="3.6" dx="0.4" letter-spacing="0.3">R,2</tspan></text><path d="M300.9,66.5H334.3" stroke="#00ff00" stroke-width="1.6" fill="none" stroke-dasharray="6.5,2.8"/><text x="271.6" y="82.5" style="font-size:13px">J<tspan font-size="10" dy="3.6" dx="0.4" letter-spacing="0.3">R,4</tspan></text><path d="M300.9,79.0H334.3" stroke="#0000ff" stroke-width="1.6" fill="none" stroke-dasharray="3,1.6"/><text x="271.6" y="95.0" style="font-size:13px">J<tspan font-size="10" dy="3.6" dx="0.4" letter-spacing="0.3">R,3</tspan></text><path d="M300.9,91.5H334.3" stroke="#ff00ff" stroke-width="1.8" fill="none" stroke-dasharray="0.8,1.1"/>
</svg></body></html>
